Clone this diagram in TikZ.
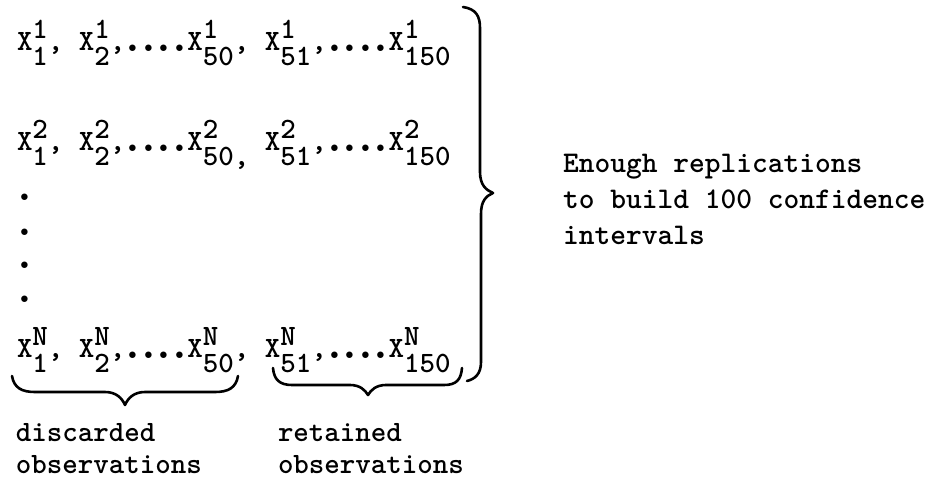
\documentclass[tikz,border=0pt]{standalone}
\usepackage{graphicx}
\begin{document}
\begin{tikzpicture}[x=1pt,y=-1pt,
  tw/.style={inner sep=0pt,outer sep=0pt,anchor=base west,
    font=\fontsize{29.5pt}{36pt}\selectfont\ttfamily\bfseries},
  twwide/.style={tw,font=\fontsize{30pt}{36pt}\selectfont\ttfamily\bfseries},
  bracepath/.style={line width=2.6pt,line cap=round,line join=round}]
% X with a superscript placed over the first column of its subscript
\newcommand\xs[2]{X\rlap{\raisebox{12pt}{#1}}\raisebox{-15pt}{#2}}
% heavy typewriter full stop, one column wide
\newcommand\pd{\makebox[0.525em]{\raisebox{-1.5pt}{\scalebox{1.6}{.}}}}
\newcommand\pdots{\pd\pd\pd\pd}
\useasboundingbox (0,0) rectangle (932,479);

% replication rows
\node[tw] (r1) at (17,50)  {\xs{1}{1}, \xs{1}{2},\pdots\xs{1}{50}, \xs{1}{51},\pdots\xs{1}{150}};
\node[tw] (r2) at (17,150) {\xs{2}{1}, \xs{2}{2},\pdots\xs{2}{50,} \xs{2}{51},\pdots\xs{2}{150}};
\node[tw] (d1) at (17,199) {\pd};
\node[tw] (d2) at (17,234) {\pd};
\node[tw] (d3) at (17,267) {\pd};
\node[tw] (d4) at (17,301) {\pd};
\node[tw] (rN) at (17,357) {\xs{N}{1}, \xs{N}{2},\pdots\xs{N}{50}, \xs{N}{51},\pdots\xs{N}{150}};

% right-hand brace
\draw[bracepath] (463,7) .. controls (476,9) and (480,16) .. (480,28)
  -- (480,172) .. controls (480,185) and (486,190) .. (493,193)
  .. controls (486,196) and (481,201) .. (481,214)
  -- (481,362) .. controls (481,374) and (475,379) .. (467,381);

% under-braces
\draw[bracepath] (12,376) .. controls (14,388) and (22,392) .. (35,392)
  -- (105,392) .. controls (116,392) and (122,398) .. (125,405)
  .. controls (128,398) and (134,392) .. (145,392)
  -- (215,392) .. controls (228,392) and (236,388) .. (238,376);
\draw[bracepath] (273,368) .. controls (274,380) and (280,385) .. (292,385)
  -- (350,385) .. controls (360,385) and (365,390) .. (368,395)
  .. controls (371,390) and (376,385) .. (386,385)
  -- (444,385) .. controls (456,385) and (461,380) .. (462,368);

% labels
\node[twwide] (e1) at (563,172) {Enough replications};
\node[twwide] (e2) at (563,208) {to build 100 confidence};
\node[twwide] (e3) at (563,244) {intervals};
\node[tw] (dl1) at (16,441) {discarded};
\node[tw] (dl2) at (16,473) {observations};
\node[tw] (rl1) at (278,441) {retained};
\node[tw] (rl2) at (278,473) {observations};
\end{tikzpicture}
\end{document}
